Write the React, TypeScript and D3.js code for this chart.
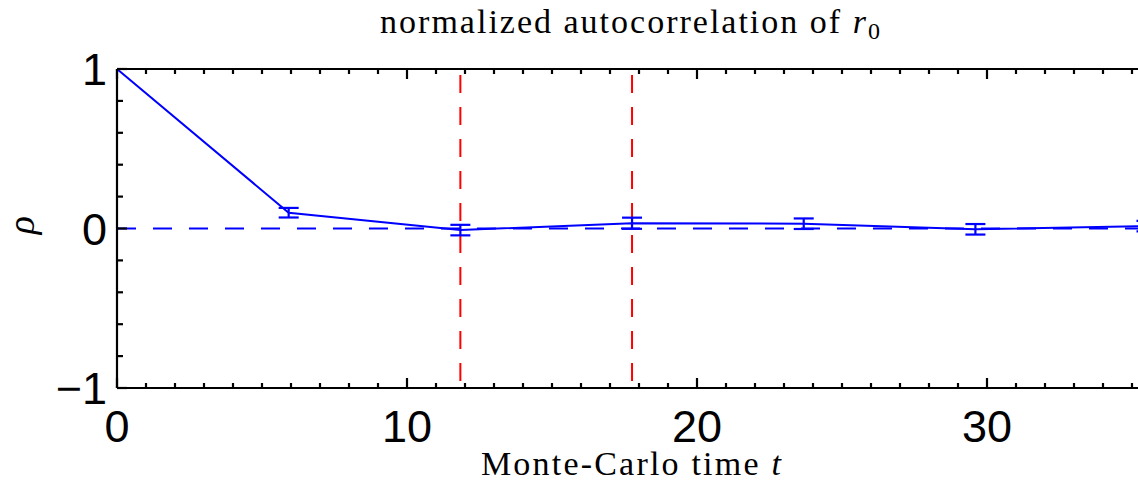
import React from "react";
import * as d3 from "d3";

const times = [0, 5.92, 11.84, 17.76, 23.68, 29.6, 35.5];
const rho = [1, 0.099, -0.01, 0.033, 0.03, -0.005, 0.015];
const rhoErr = [0, 0.03, 0.033, 0.035, 0.033, 0.033, 0.033];
const xTicks = [0, 10, 20, 30];
const yTicks = [-1, 0, 1];
const markers = [11.84, 17.76];

const W = 1138;
const H = 491;

export default function App() {
  const x = d3.scaleLinear().domain([0, 35.5]).range([117, 1146.5]);
  const y = d3.scaleLinear().domain([-1, 1]).range([388, 69]);
  const line = d3
    .line<number>()
    .x((_, i) => x(times[i]))
    .y((d) => y(d));
  const minorX = d3.range(0, 36, 1);
  const minorY = d3.range(-1, 1.0001, 0.2);
  const sans = "'Liberation Sans', Arial, Helvetica, sans-serif";
  const serif = "'Liberation Serif', 'Times New Roman', serif";
  return (
    <svg width={W} height={H} style={{ position: "absolute", left: 0, top: 0 }}>
      <rect x={0} y={0} width={W} height={H} fill="white" />
      <line x1={x(0)} x2={x(35.5)} y1={y(0)} y2={y(0)} stroke="#0000ff" strokeWidth={2.2} strokeDasharray="19,17" />
      {markers.map((m, i) => (
        <line key={i} x1={x(m)} x2={x(m)} y1={75} y2={y(-1)} stroke="#ff0000" strokeWidth={2} strokeDasharray="18,14" />
      ))}
      <path d={line(rho) || ""} fill="none" stroke="#0000ff" strokeWidth={2} />
      {rho.map((v, i) =>
        rhoErr[i] > 0 ? (
          <g key={i} stroke="#0000ff" strokeWidth={2.2}>
            <line x1={x(times[i])} x2={x(times[i])} y1={y(v - rhoErr[i])} y2={y(v + rhoErr[i])} />
            <line x1={x(times[i]) - 10} x2={x(times[i]) + 10} y1={y(v - rhoErr[i])} y2={y(v - rhoErr[i])} />
            <line x1={x(times[i]) - 10} x2={x(times[i]) + 10} y1={y(v + rhoErr[i])} y2={y(v + rhoErr[i])} />
          </g>
        ) : null
      )}
      <g stroke="black" strokeWidth={2.2}>
        <line x1={x(0)} x2={x(35.5)} y1={y(-1)} y2={y(-1)} />
        <line x1={x(0)} x2={x(35.5)} y1={y(1)} y2={y(1)} />
        <line x1={x(0)} x2={x(0)} y1={y(-1)} y2={y(1)} />
        {minorX.map((t) => {
          const len = t % 10 === 0 ? 10 : 5;
          return (
            <g key={t}>
              <line x1={x(t)} x2={x(t)} y1={y(-1)} y2={y(-1) - len} />
              <line x1={x(t)} x2={x(t)} y1={y(1)} y2={y(1) + len} />
            </g>
          );
        })}
        {minorY.map((t, i) => {
          const major = Math.abs(t - Math.round(t)) < 1e-6;
          return <line key={i} x1={x(0)} x2={x(0) + (major ? 10 : 6)} y1={y(t)} y2={y(t)} />;
        })}
      </g>
      {xTicks.map((t) => (
        <text key={t} x={x(t)} y={442} textAnchor="middle" fontFamily={sans} fontSize={45}>
          {t}
        </text>
      ))}
      {yTicks.map((t) => (
        <text key={t} x={107} y={y(t) + 16} textAnchor="end" fontFamily={sans} fontSize={45}>
          {t < 0 ? "\u2212" + Math.abs(t) : t}
        </text>
      ))}
      <text x={631} y={33} textAnchor="middle" fontFamily={serif} fontSize={34} letterSpacing={2}>
        normalized autocorrelation of <tspan fontStyle="italic">r</tspan>
        <tspan fontSize={24} dy={6}>0</tspan>
      </text>
      <text x={632} y={475} textAnchor="middle" fontFamily={serif} fontSize={34} letterSpacing={2.2}>
        Monte-Carlo time <tspan fontStyle="italic">t</tspan>
      </text>
      <text transform="translate(34,225) rotate(-90)" textAnchor="middle" fontFamily={serif} fontSize={38} fontStyle="italic">
        ρ
      </text>
    </svg>
  );
}
